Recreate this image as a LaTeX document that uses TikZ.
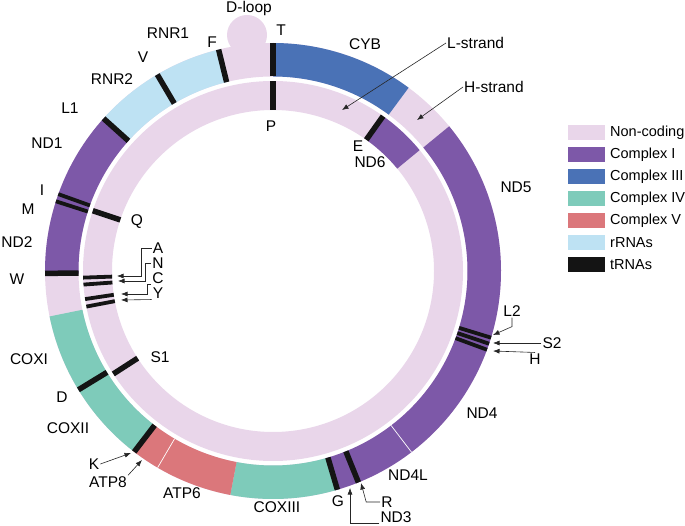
\documentclass[tikz,border=0pt]{standalone}
\usepackage{fontspec}
\setmainfont{Liberation Sans}
\usetikzlibrary{arrows.meta}

\definecolor{noncoding}{HTML}{E9D6EA}
\definecolor{complexone}{HTML}{7D58A8}
\definecolor{complexthree}{HTML}{4A72B6}
\definecolor{complexfour}{HTML}{7ECBBA}
\definecolor{complexfive}{HTML}{DB777B}
\definecolor{rrna}{HTML}{BEE2F3}
\definecolor{trna}{HTML}{141414}

\newcommand{\hin}{194.5}
\newcommand{\hout}{228}
\newcommand{\lin}{161}
\newcommand{\lout}{190}

% ring piece: inner radius, outer radius, start angle, end angle, colour
\newcommand{\ringpart}[5]{%
  \fill [#5] (#3:#1) -- (#3:#2) arc [radius=#2, start angle=#3, end angle=#4]
    -- (#4:#1) arc [radius=#1, start angle=#4, end angle=#3] -- cycle;}

\begin{document}
\begin{tikzpicture}[x=1pt, y=-1pt,
  lbl/.style={inner sep=1pt, font=\fontsize{15.5}{18}\selectfont},
  trna/.style={draw=trna, line width=5.5pt},
  thintrna/.style={draw=trna, line width=3.8pt},
  pointer/.style={draw=black!85, line width=0.6pt, -{Latex[length=6.5pt, width=5pt]}},
  key/.style={minimum width=37pt, minimum height=15pt, inner sep=0pt},
  keytext/.style={anchor=west, inner sep=0pt, font=\fontsize{14.5}{17}\selectfont}]

  \useasboundingbox (0,0) rectangle (685,526);

  % D-loop bump
  \fill [noncoding] (247,35) circle [radius=20];

  \begin{scope}[shift={(273,271)}, yscale=-1]
    % H-strand (outer)
    \ringpart{\hin}{\hout}{0}{360}{noncoding}
    \ringpart{\hin}{\hout}{53.5}{90}{complexthree}
    \ringpart{\hin}{\hout}{-74}{39.4}{complexone}
    \ringpart{\hin}{\hout}{-100.8}{-74}{complexfour}
    \ringpart{\hin}{\hout}{-128}{-100.8}{complexfive}
    \ringpart{\hin}{\hout}{-168.5}{-128}{complexfour}
    \ringpart{\hin}{\hout}{138}{180.8}{complexone}
    \ringpart{\hin}{\hout}{103.8}{138}{rrna}
    \draw [white, line width=0.7pt] (-52.6:\hin) -- (-52.6:\hout);
    \draw [white, line width=0.7pt] (-120.4:\hin) -- (-120.4:\hout);

    \draw [trna] (90:\hin) -- (90:\hout);
    \draw [trna] (103.8:\hin) -- (103.8:\hout);
    \draw [trna] (120.5:\hin) -- (120.5:\hout);
    \draw [trna] (138:\hin) -- (138:\hout);
    \draw [thintrna] (160.3:\hin) -- (160.3:\hout);
    \draw [thintrna] (162.2:\hin) -- (162.2:\hout);
    \draw [trna] (180.6:\hin) -- (180.6:\hout);
    \draw [trna] (-148.6:\hin) -- (-148.6:\hout);
    \draw [trna] (-127.5:\hin) -- (-127.5:\hout);
    \draw [trna] (-73.6:\hin) -- (-73.6:\hout);
    \draw [trna] (-68:\hin) -- (-68:\hout);
    \draw [thintrna] (-17:\hin) -- (-17:\hout);
    \draw [thintrna] (-18.6:\hin) -- (-18.6:\hout);
    \draw [thintrna] (-20.2:\hin) -- (-20.2:\hout);

    % L-strand (inner)
    \ringpart{\lin}{\lout}{0}{360}{noncoding}
    \ringpart{\lin}{\lout}{39.5}{54}{complexone}

    \draw [trna] (90:\lin) -- (90:\lout);
    \draw [trna] (54.6:\lin) -- (54.6:\lout);
    \draw [trna] (161.5:\lin) -- (161.5:\lout);
    \draw [thintrna] (182:\lin) -- (182:\lout);
    \draw [thintrna] (184.1:\lin) -- (184.1:\lout);
    \draw [thintrna] (188.5:\lin) -- (188.5:\lout);
    \draw [thintrna] (190.8:\lin) -- (190.8:\lout);
    \draw [trna] (212.8:\lin) -- (212.8:\lout);
  \end{scope}

  % labels round the rings
  \node [lbl] (dloop) at (249,8) {D-loop};
  \node [lbl] (T) at (281,30) {T};
  \node [lbl] (P) at (271,126) {P};
  \node [lbl] (F) at (212,42) {F};
  \node [lbl] (RNR1) at (168,33) {RNR1};
  \node [lbl] (V) at (143,57) {V};
  \node [lbl] (RNR2) at (112,79) {RNR2};
  \node [lbl] (L1) at (70,108) {L1};
  \node [lbl] (ND1) at (47,143) {ND1};
  \node [lbl] (I) at (42,190) {I};
  \node [lbl] (M) at (28,209) {M};
  \node [lbl] (ND2) at (17,242) {ND2};
  \node [lbl] (W) at (17,279) {W};
  \node [lbl] (Q) at (137,222) {Q};
  \node [lbl] (COXI) at (29,359) {COXI};
  \node [lbl] (D) at (62,397) {D};
  \node [lbl] (COXII) at (68,428) {COXII};
  \node [lbl] (S1) at (160,357) {S1};
  \node [lbl] (K) at (94,464) {K};
  \node [lbl] (ATP8) at (108,482) {ATP8};
  \node [lbl] (ATP6) at (182,493) {ATP6};
  \node [lbl] (COXIII) at (277,507) {COXIII};
  \node [lbl] (G) at (338,501) {G};
  \node [lbl] (R) at (387,502) {R};
  \node [lbl] (ND3) at (396,517) {ND3};
  \node [lbl] (ND4L) at (408,475) {ND4L};
  \node [lbl] (ND4) at (482,413) {ND4};
  \node [lbl] (H) at (535,359) {H};
  \node [lbl] (S2) at (552,343) {S2};
  \node [lbl] (L2) at (512,311) {L2};
  \node [lbl] (ND5) at (516,187) {ND5};
  \node [lbl] (E) at (358,146) {E};
  \node [lbl] (ND6) at (370,162) {ND6};
  \node [lbl] (CYB) at (365,44) {CYB};
  \node [lbl, anchor=west] (Lstrand) at (446,43) {L-strand};
  \node [lbl, anchor=west] (Hstrand) at (463,87) {H-strand};
  \node [lbl] (A) at (158,248) {A};
  \node [lbl] (N) at (158,263) {N};
  \node [lbl] (C) at (158,278) {C};
  \node [lbl] (Y) at (158,293) {Y};

  % arrow tips
  \coordinate (tipLstrand) at (342,110);
  \coordinate (tipHstrand) at (417,120);
  \coordinate (tipL2) at (493,335);
  \coordinate (tipS2) at (493,343);
  \coordinate (tipH) at (493,351);
  \coordinate (tipR) at (361,483);
  \coordinate (tipND3) at (350,488);
  \coordinate (tipK) at (131,453);
  \coordinate (tipATP8) at (142,460);
  \coordinate (tipA) at (117,276);
  \coordinate (tipN) at (118,281);
  \coordinate (tipC) at (121,294);
  \coordinate (tipY) at (121,300);

  \draw [pointer] (Lstrand.west) -- (tipLstrand);
  \draw [pointer] (Hstrand.west) -- (tipHstrand);
  \draw [pointer] (L2.south) -- ++(0,9) -- (tipL2);
  \draw [pointer] (S2.west) -- (tipS2);
  \draw [pointer] (H.north) -- (tipH);
  \draw [pointer] (R.west) -- ++(-14,0) -- (tipR);
  \draw [pointer] (ND3.south west) -| (tipND3);
  \draw [pointer] (K.east) -- (tipK);
  \draw [pointer] (ATP8.north east) -- (tipATP8);
  \draw [pointer] (A.west) -- ++(-10,0) |- (tipA);
  \draw [pointer] (N.west) -- ++(-6,0) |- (tipN);
  \draw [pointer] (C.south west) -- ++(-4,0) |- (tipC);
  \draw [pointer] (Y.south west) -- (tipY);

  % legend
  \node [key, fill=noncoding] (kNC) at (586.5,132.5) {};
  \node [key, fill=complexone] (kCI) at (586.5,154.5) {};
  \node [key, fill=complexthree] (kCIII) at (586.5,176.5) {};
  \node [key, fill=complexfour] (kCIV) at (586.5,198.5) {};
  \node [key, fill=complexfive] (kCV) at (586.5,220.5) {};
  \node [key, fill=rrna] (krRNA) at (586.5,242.5) {};
  \node [key, fill=trna] (ktRNA) at (586.5,264.5) {};
  \node [keytext] (tNC) at (610,132.5) {Non-coding};
  \node [keytext] (tCI) at (610,154.5) {Complex I};
  \node [keytext] (tCIII) at (610,176.5) {Complex III};
  \node [keytext] (tCIV) at (610,198.5) {Complex IV};
  \node [keytext] (tCV) at (610,220.5) {Complex V};
  \node [keytext] (trRNA) at (610,242.5) {rRNAs};
  \node [keytext] (ttRNA) at (610,264.5) {tRNAs};
\end{tikzpicture}
\end{document}
